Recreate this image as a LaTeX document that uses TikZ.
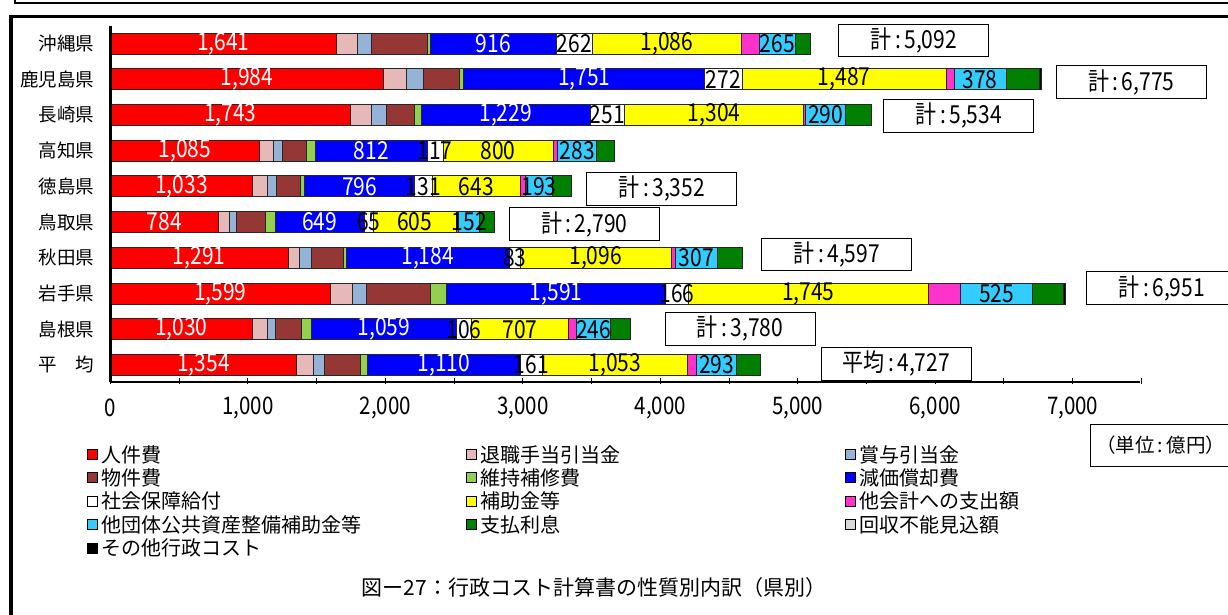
\documentclass[tikz,border=0pt]{standalone}
\usepackage{fontspec}
\setmainfont{Noto Sans CJK JP}
\definecolor{c1}{HTML}{FF0000}
\definecolor{c2}{HTML}{E6B9B8}
\definecolor{c3}{HTML}{95B3D7}
\definecolor{c4}{HTML}{953735}
\definecolor{c5}{HTML}{92D050}
\definecolor{c6}{HTML}{0000FF}
\definecolor{c7}{HTML}{FFFFFF}
\definecolor{c8}{HTML}{FFFF00}
\definecolor{c9}{HTML}{FF33CC}
\definecolor{c10}{HTML}{33CCFF}
\definecolor{c11}{HTML}{008000}
\definecolor{c12}{HTML}{D9D9D9}
\definecolor{c13}{HTML}{000000}
\newcommand\fmtnum[1]{\pgfmathtruncatemacro\fthou{#1/1000}\pgfmathtruncatemacro\frem{#1-1000*\fthou}\ifnum\fthou>0 \fthou,\ifnum\frem<100 0\fi\ifnum\frem<10 0\fi\frem\else\frem\fi}
\newcommand\tallt[1]{\scalebox{1}[1.18]{#1}}
\def\rowA{1641,153,104,405,24,916,262,1086,128,265,108,0,0}
\def\rowB{1984,170,121,267,29,1751,272,1487,56,378,245,0,15}
\def\rowC{1743,158,109,201,49,1229,251,1304,15,290,185,0,0}
\def\rowD{1085,97,66,177,66,812,117,800,34,283,129,0,0}
\def\rowE{1033,109,68,175,29,796,131,643,36,193,139,0,0}
\def\rowF{784,85,49,211,68,649,65,605,19,152,103,0,0}
\def\rowG{1291,85,85,235,19,1184,83,1096,31,307,181,0,0}
\def\rowH{1599,158,104,470,116,1591,166,1745,235,525,225,0,17}
\def\rowI{1030,109,61,187,73,1059,106,707,61,246,141,0,0}
\def\rowJ{1354,126,80,262,49,1110,161,1053,68,293,171,0,0}
\def\sc{0.13745}
\begin{document}
\begin{tikzpicture}[x=1pt,y=-1pt,
  seg/.style={draw=black!85,line width=0.9pt},
  vlab/.style={font=\fontsize{21}{24}\selectfont,inner sep=0pt},
  rowlab/.style={font=\fontsize{18.5}{22}\selectfont,inner sep=0pt,anchor=east},
  ticklab/.style={font=\fontsize{20.5}{24}\selectfont,inner sep=0pt},
  tot/.style={draw=black,line width=1pt,fill=white,minimum width=150pt,minimum height=32.5pt,font=\fontsize{21}{24}\selectfont,inner sep=0pt},
  legbox/.style={draw=black,line width=0.9pt,minimum size=10pt,inner sep=0pt},
  legtxt/.style={font=\fontsize{20}{24}\selectfont,inner sep=0pt,anchor=west},
  frame/.style={line width=3.5pt}]
\useasboundingbox (0,0) rectangle (1228,615);
\begin{scope}
\clip (0,0) rectangle (1228,615);
\draw[line width=2.5pt] (15,-10) -- (15,3) -- (1240,3);
\draw[frame] (11,16.5) rectangle (1245,640);
\end{scope}
% bars
\foreach \name/\key [count=\r] in {沖縄県/A,鹿児島県/B,長崎県/C,高知県/D,徳島県/E,鳥取県/F,秋田県/G,岩手県/H,島根県/I,平　均/J} {
  \pgfmathsetmacro\yc{43.5+35.72*(\r-1)}
  \node[rowlab] (rl\r) at (94.5,\yc) {\name};
  \edef\vals{\csname row\key\endcsname}
  \xdef\acc{0}
  \foreach \v [count=\k] in \vals {
    \pgfmathsetmacro\xa{110.5+\acc*\sc}
    \pgfmathsetmacro\xb{110.5+(\acc+\v)*\sc}
    \ifnum\v>0
      \filldraw[seg,fill=c\k] (\xa,\yc-10.5) rectangle (\xb,\yc+10.5);
    \fi
    \pgfmathtruncatemacro\na{\acc+\v}
    \xdef\acc{\na}
  }
  \xdef\acc{0}
  \foreach \v [count=\k] in \vals {
    \pgfmathsetmacro\xm{110.5+(\acc+\v/2)*\sc}
    \def\lc{}
    \ifnum\k=1 \def\lc{white}\fi
    \ifnum\k=6 \def\lc{white}\fi
    \ifnum\k=7 \def\lc{black}\fi
    \ifnum\k=8 \def\lc{black}\fi
    \ifnum\k=10 \def\lc{black}\fi
    \ifx\lc\empty\else
      \node[vlab,text=\lc] (v\r-\k) at (\xm,\yc) {\tallt{\fmtnum{\v}}};
    \fi
    \pgfmathtruncatemacro\na{\acc+\v}
    \xdef\acc{\na}
  }
}
% axes
\draw[line width=2.5pt] (110.5,26) -- (110.5,382);
\draw[line width=2.3pt] (110.5,382) -- (1140,382);
\foreach \t in {0,...,15} {
  \draw[line width=1pt] (110.5+68.725*\t,378) -- (110.5+68.725*\t,384);
}
\foreach \t/\lab in {0/0,1/{1,000},2/{2,000},3/{3,000},4/{4,000},5/{5,000},6/{6,000},7/{7,000}} {
  \node[ticklab] (tk\t) at (110.5+137.45*\t,408) {\tallt{\lab}};
}
% totals
\foreach \x/\y/\txt [count=\i] in {913.8/40.3/計\,:\,5{,}092,1131.2/82/計\,:\,6{,}775,958.8/115.8/計\,:\,5{,}534,661.7/188.8/計\,:\,3{,}352,584.3/224/計\,:\,2{,}790,836.7/254.5/計\,:\,4{,}597,1161.7/288/計\,:\,6{,}951,740/328.8/計\,:\,3{,}780,896.2/363.8/平均\,:\,4{,}727} {
  \node[tot] (tot\i) at (\x,\y) {\tallt{\txt}};
}
% unit box
\draw[line width=1pt] (1090,424.5) rectangle (1245,466);
\node[font=\fontsize{19.5}{22}\selectfont,inner sep=0pt,anchor=west] (unit) at (1096,445.5) {（単位\,:\,億円）};
% legend
\foreach \col/\row/\c/\txt in {0/0/1/人件費,1/0/2/退職手当引当金,2/0/3/賞与引当金,
  0/1/4/物件費,1/1/5/維持補修費,2/1/6/減価償却費,
  0/2/7/社会保障給付,1/2/8/補助金等,2/2/9/他会計への支出額,
  0/3/10/他団体公共資産整備補助金等,1/3/11/支払利息,2/3/12/回収不能見込額,
  0/4/13/その他行政コスト} {
  \pgfmathsetmacro\lx{87+379*\col}
  \pgfmathsetmacro\ly{454.5+23.4*\row}
  \node[legbox,fill=c\c] (lb\c) at (\lx+5,\ly) {};
  \node[legtxt] (lt\c) at (\lx+14.5,\ly) {\txt};
}
\node[font=\fontsize{21}{25}\selectfont,inner sep=0pt] (cap) at (594,588) {図ー27：行政コスト計算書の性質別内訳（県別）};
\end{tikzpicture}
\end{document}
